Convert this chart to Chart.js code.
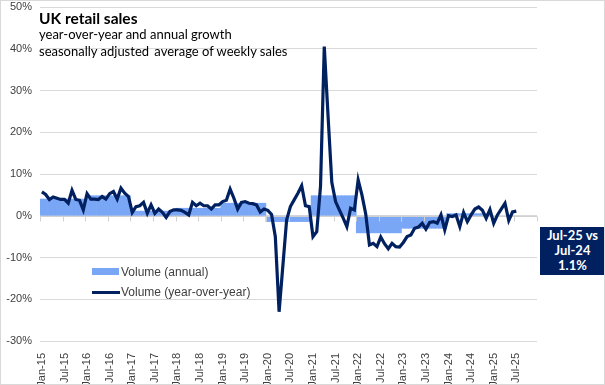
<!DOCTYPE html>
<html>
<head>
<meta charset="utf-8">
<script src="https://cdn.jsdelivr.net/npm/chart.js@4.4.1/dist/chart.umd.min.js"></script>
<style>
  body { margin: 0; background: #fff; }
  #wrap { position: relative; width: 605px; height: 385px; font-family: Lato, "Liberation Sans", sans-serif; }
  #frame { position: absolute; left: 0; top: 0; width: 605px; height: 385px; box-sizing: border-box; border: 1px solid #d9d9d9; pointer-events: none; }
  canvas { position: absolute; left: 0; top: 0; }
  .title { position: absolute; left: 39px; top: 9px; font-size: 15.5px; font-weight: bold; color: #000; line-height: 18px; }
  .sub { position: absolute; left: 39px; font-size: 13px; color: #000; line-height: 17px; white-space: pre; }
  .legend { position: absolute; left: 92px; font-family: "Liberation Sans", Arial, sans-serif; font-size: 12px; color: #404040; line-height: 14px; }
  .legend span.sw { position: absolute; left: 0; }
  .legend span.tx { position: absolute; left: 29px; top: 0; white-space: nowrap; }
  .note { position: absolute; left: 540px; top: 227px; width: 65px; height: 48px; background: #002060; color: #fff;
          font-weight: bold; font-size: 13px; line-height: 15px; text-align: center; padding-top: 1px; box-sizing: border-box; }
</style>
</head>
<body>
<div id="wrap">
  <canvas id="chart" width="605" height="385"></canvas>
  <div class="title">UK retail sales</div>
  <div class="sub" style="top:26px">year-over-year and annual growth</div>
  <div class="sub" style="top:43px">seasonally adjusted <span style="margin-left:2px">average of weekly sales</span></div>
  <div class="legend" style="top:265px"><span class="sw" style="top:3px;width:27px;height:7px;background:#7aa6f6"></span><span class="tx">Volume (annual)</span></div>
  <div class="legend" style="top:285px"><span class="sw" style="top:6px;width:28px;height:3px;background:#002060"></span><span class="tx">Volume (year-over-year)</span></div>
  <div class="note">Jul-25 vs<br>Jul-24<br>1.1%</div>
  <div id="frame"></div>
</div>
<script>
const monthNames = ['Jan', 'Feb', 'Mar', 'Apr', 'May', 'Jun', 'Jul', 'Aug', 'Sep', 'Oct', 'Nov', 'Dec'];
const years = ['15', '16', '17', '18', '19', '20', '21', '22', '23', '24', '25'];

// annual volume growth, one value per calendar year (2025 not complete yet)
const annualGrowth = [4.0, 4.8, 1.1, 1.8, 3.0, -1.4, 4.8, -4.1, -3.0, 0.5, null];

// monthly year-over-year volume growth, Jan-15 .. Jul-25
const yoyGrowth = [
    5.7, 5.1, 3.9, 4.5, 4.2, 3.9, 3.9, 3.0, 6.1, 3.9, 3.7, 1.4,
    5.3, 4.0, 4.0, 3.9, 4.6, 4.0, 5.3, 5.8, 4.0, 6.6, 5.4, 4.6,
    0.8, 2.2, 2.4, 3.2, 0.6, 2.6, 0.6, 1.6, 0.8, -0.4, 1.0, 1.4,
    1.4, 1.3, 0.8, 0.2, 3.2, 2.4, 3.0, 2.4, 2.4, 1.6, 2.6, 2.6,
    3.4, 3.7, 6.4, 4.2, 1.6, 3.2, 3.4, 3.0, 2.9, 2.6, 0.9, 1.6,
    1.3, 0.3, -5.0, -23.0, -12.0, -1.0, 2.2, 3.8, 5.4, 7.2, 2.4, 2.2,
    -5.0, -3.8, 7.0, 40.5, 24.0, 8.0, 3.4, 1.4, -0.5, -2.6, 1.8, 1.4,
    8.6, 5.0, 0.5, -7.0, -6.6, -7.4, -5.1, -6.7, -7.9, -6.6, -7.4, -7.5,
    -6.4, -5.0, -4.6, -3.0, -2.7, -1.8, -3.2, -1.6, -1.4, -1.8, 0.2, -3.4,
    0.0, -0.2, 0.2, -2.6, 0.8, -1.4, 0.2, 1.6, 2.1, 1.3, -0.6, 1.5,
    -1.8, 0.2, 1.6, 3.0, -1.1, 0.9, 1.1
];

const labels = [];
years.forEach(y => monthNames.forEach(m => labels.push(m + '-' + y)));
const annualByMonth = labels.map((l, i) => annualGrowth[Math.floor(i / 12)]);

// category axis line at 0 with tick marks every six months, drawn over the bars
const zeroAxis = {
    id: 'zeroAxis',
    afterDatasetDraw(chart, args) {
        if (args.index !== 0) return;
        const { ctx, chartArea } = chart;
        const y0 = Math.round(chart.scales.y.getPixelForValue(0)) + 0.5;
        const step = (chartArea.right - chartArea.left) / labels.length;
        ctx.save();
        ctx.strokeStyle = '#d0d0d0';
        ctx.lineWidth = 1;
        ctx.beginPath();
        ctx.moveTo(chartArea.left, y0);
        ctx.lineTo(chartArea.right, y0);
        for (let i = 0; i <= labels.length; i += 6) {
            const x = Math.round(chartArea.left + step * i) + 0.5;
            ctx.moveTo(x, y0);
            ctx.lineTo(x, y0 + 5);
        }
        ctx.stroke();
        ctx.restore();
    }
};

const config = {
    type: 'bar',
    data: {
        labels: labels,
        datasets: [{
            type: 'bar',
            label: 'Volume (annual)',
            data: annualByMonth,
            backgroundColor: '#7aa6f6',
            borderWidth: 0,
            barPercentage: 1,
            categoryPercentage: 1,
            order: 2
        }, {
            type: 'line',
            label: 'Volume (year-over-year)',
            data: yoyGrowth,
            borderColor: '#002060',
            borderWidth: 3.2,
            pointRadius: 0,
            tension: 0,
            fill: false,
            order: 1
        }]
    },
    options: {
        responsive: false,
        animation: false,
        devicePixelRatio: 1,
        layout: { padding: { top: 0, right: 68, left: 0, bottom: 0 } },
        plugins: { legend: { display: false }, tooltip: { enabled: false } },
        scales: {
            x: {
                grid: { display: false },
                border: { display: false },
                ticks: {
                    autoSkip: false,
                    maxRotation: 90,
                    minRotation: 90,
                    padding: 4,
                    color: '#404040',
                    font: { family: 'Liberation Sans', size: 11 },
                    callback: (v, i) => (i % 6 === 0 ? labels[i] : '')
                },
                afterFit: s => { s.height = 44; }
            },
            y: {
                min: -30,
                max: 50,
                grid: { color: '#d9d9d9', drawTicks: false },
                border: { display: false },
                ticks: {
                    stepSize: 10,
                    padding: 8,
                    color: '#404040',
                    font: { family: 'Liberation Sans', size: 11 },
                    callback: v => v + '%'
                },
                afterFit: s => { s.width = 40; s.paddingTop = 7; s.paddingBottom = 0; }
            }
        }
    },
    plugins: [zeroAxis]
};

Chart.defaults.font.family = 'Liberation Sans';
const retailChart = new Chart(document.getElementById('chart'), config);
</script>
</body>
</html>
